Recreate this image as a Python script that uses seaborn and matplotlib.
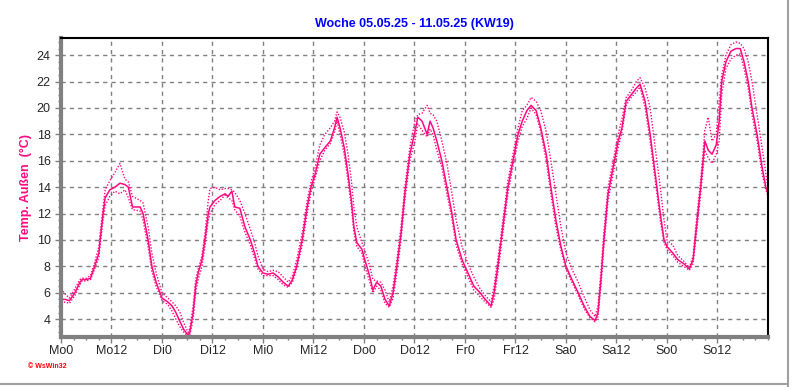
import matplotlib
matplotlib.use("Agg")
import matplotlib.pyplot as plt
from matplotlib.ticker import MultipleLocator
from matplotlib.lines import Line2D
import seaborn as sns
import pandas as pd

# ---------------- DATA ---------------- #
# hours since Monday 0:00
hours = [0, 1, 2, 3.3, 4.5, 5, 6, 7, 8, 9, 9.3, 10, 10.5, 11.6, 12.8, 14, 15.2, 16, 17, 18.8,
         19.5, 20.7, 21.6, 22.6, 24, 25.4, 26.4, 27.3, 28.3, 29.2, 30.2, 30.6, 31.4, 32, 32.6,
         33.5, 34.2, 35, 35.4, 36.6, 37.8, 39, 39.7, 40.6, 41.3, 42.5, 43.7, 45, 46, 46.8,
         48, 49.2, 50.4, 51.6, 52.8, 54, 55, 56, 57.3, 58.5, 59.4, 60.4, 61.5, 62.7, 64,
         65, 65.6, 66.3, 67.3, 68.2, 69, 69.6, 70.3, 71.5, 72.2, 73.4, 74.1, 75, 76, 77,
         78, 78.9, 79.8, 80.8, 81.7, 82.9, 84.1, 84.8, 85.8, 87, 87.7, 88.4, 89.3, 90.5,
         91.7, 92.9, 93.9, 95.3, 96.7, 98.1, 99.6, 100.8, 102.2, 102.9, 103.8, 105, 106.2,
         107.4, 108.6, 109.6, 110.7, 111.7, 112.9, 114, 115.3, 116.4, 117.6, 118.8, 120,
         121.4, 122.9, 124.3, 125.7, 126.9, 127.6, 128.3, 129, 130, 131.2, 132.4, 133.3,
         134.3, 135.5, 136.7, 137.6, 138.8, 140, 141.2, 142.4, 143.3, 144, 145.4, 146.6,
         148, 149.3, 150.2, 151, 152, 153, 153.8, 154.7, 155.7, 156.4, 157, 158, 159.2,
         160.4, 161.4, 162.3, 163.3, 164.2, 165.4, 166.6, 167.5, 168]

temp = [5.5, 5.5, 5.4, 6.0, 6.8, 7.0, 7.0, 7.1, 8.0, 9.0, 10.0, 12.0, 13.2, 13.8, 14.0, 14.3, 14.2,
        14.0, 12.5, 12.5, 12.0, 10.0, 8.0, 6.8, 5.6, 5.3, 5.0, 4.5, 3.8, 3.2, 2.8, 3.0, 4.5,
        6.5, 7.5, 8.5, 10.0, 12.0, 12.5, 13.0, 13.3, 13.5, 13.3, 13.7, 12.5, 12.4, 11.0, 10.0,
        9.0, 8.0, 7.5, 7.4, 7.5, 7.2, 6.8, 6.5, 7.0, 8.0, 10.0, 12.5, 14.0, 15.0, 16.5, 17.0,
        17.5, 18.5, 19.3, 18.5, 17.0, 15.0, 13.0, 11.0, 9.8, 9.3, 8.5, 7.2, 6.2, 6.8, 6.5,
        5.5, 5.0, 6.0, 8.0, 10.5, 13.5, 16.5, 18.2, 19.3, 19.0, 18.0, 19.0, 18.5, 17.5, 16.0,
        14.0, 12.0, 10.0, 8.5, 7.5, 6.5, 6.0, 5.5, 5.0, 6.0, 8.0, 11.0, 14.0, 16.0, 18.0,
        19.0, 19.8, 20.2, 19.8, 18.5, 16.5, 14.0, 11.5, 9.5, 8.0, 7.0, 6.0, 5.0, 4.2, 3.9,
        4.5, 7.0, 10.0, 13.5, 15.5, 17.5, 18.5, 20.5, 21.0, 21.5, 21.8, 20.5, 18.0, 15.0,
        12.0, 10.0, 9.5, 9.0, 8.5, 8.2, 7.8, 8.5, 11.0, 14.0, 17.5, 16.8, 16.5, 17.2, 19.0,
        22.0, 23.5, 24.3, 24.5, 24.5, 23.5, 22.0, 20.0, 18.0, 15.5, 14.0, 13.5]

temp_max = [6.3, 5.9, 5.6, 6.3, 7.0, 7.1, 7.1, 7.3, 8.3, 9.5, 10.5, 12.5, 13.8, 14.5, 15.1, 15.8,
            14.6, 14.4, 13.3, 13.0, 12.8, 11.0, 9.0, 7.5, 6.0, 5.6, 5.3, 5.0, 4.5, 3.7, 3.0, 3.3,
            5.0, 7.0, 7.8, 8.8, 10.5, 13.0, 13.9, 14.0, 13.8, 13.9, 13.9, 13.8, 13.6, 13.0, 12.0,
            10.8, 9.8, 8.8, 7.8, 7.6, 7.7, 7.6, 7.2, 6.8, 7.3, 8.5, 10.5, 13.0, 14.4, 15.5, 17.2,
            18.0, 18.5, 19.0, 19.7, 19.3, 18.2, 16.5, 14.5, 12.5, 11.0, 9.8, 9.2, 8.0, 7.0, 6.9,
            6.8, 6.2, 5.3, 6.5, 8.5, 11.0, 14.0, 17.0, 19.0, 19.5, 19.6, 20.2, 19.6, 19.5, 19.0,
            17.5, 15.8, 13.5, 11.5, 9.5, 8.2, 7.2, 6.3, 5.8, 5.3, 6.5, 8.5, 11.5, 14.5, 16.5,
            18.5, 19.8, 20.2, 20.8, 20.5, 19.8, 18.2, 16.0, 13.5, 11.0, 9.0, 7.8, 6.8, 5.7, 4.7,
            4.2, 5.0, 7.6, 10.6, 14.0, 16.0, 18.0, 19.2, 20.8, 21.3, 22.0, 22.3, 21.5, 20.0,
            17.0, 14.0, 11.5, 10.0, 9.6, 8.8, 8.4, 7.9, 8.8, 11.5, 14.5, 18.3, 19.3, 17.5, 18.0,
            20.5, 22.5, 24.0, 24.8, 25.0, 24.9, 24.5, 23.5, 22.0, 19.5, 17.0, 15.0, 14.0]

temp_min = [5.2, 5.3, 5.2, 5.8, 6.6, 6.9, 6.9, 7.0, 7.8, 8.7, 9.6, 11.5, 12.6, 13.3, 13.7, 13.5,
            13.8, 13.2, 12.3, 12.2, 11.5, 9.5, 7.6, 6.5, 5.4, 5.1, 4.6, 4.0, 3.4, 3.0, 2.7, 2.8,
            4.0, 6.0, 7.0, 8.0, 9.5, 11.5, 12.0, 12.7, 13.0, 13.4, 13.2, 13.0, 12.3, 11.8, 10.6,
            9.6, 8.6, 7.8, 7.3, 7.3, 7.3, 7.0, 6.6, 6.4, 6.8, 7.8, 9.6, 12.0, 13.6, 14.7, 16.0,
            16.8, 17.3, 18.2, 19.0, 18.0, 16.5, 14.5, 12.5, 10.6, 9.5, 9.0, 8.0, 6.8, 6.0, 6.5,
            6.2, 5.2, 4.9, 5.6, 7.5, 10.0, 13.0, 16.0, 17.5, 18.8, 18.3, 17.8, 18.4, 18.0, 16.8,
            15.5, 13.5, 11.6, 9.6, 8.2, 7.2, 6.2, 5.7, 5.3, 4.9, 5.5, 7.5, 10.5, 13.5, 15.6,
            17.5, 18.6, 19.2, 20.0, 19.5, 18.2, 16.0, 13.5, 11.0, 9.2, 7.8, 6.8, 5.8, 4.8, 4.1,
            3.8, 4.2, 6.5, 9.5, 13.0, 15.0, 17.0, 18.2, 20.2, 20.8, 21.2, 21.6, 20.0, 17.5, 14.5,
            11.5, 9.8, 9.3, 8.8, 8.3, 8.0, 7.7, 8.2, 10.5, 13.5, 16.8, 16.2, 15.8, 16.5, 17.5,
            21.0, 23.0, 23.7, 24.0, 24.1, 23.0, 21.5, 19.5, 17.5, 15.0, 13.8, 13.3]

tick_hours = list(range(0, 168, 12))
tick_labels = ["Mo0", "Mo12", "Di0", "Di12", "Mi0", "Mi12", "Do0", "Do12",
               "Fr0", "Fr12", "Sa0", "Sa12", "So0", "So12"]

df = pd.DataFrame({"h": hours, "temp": temp, "tmax": temp_max, "tmin": temp_min})

# ---------------- PLOT ---------------- #
sns.set_style("white")
plt.rcParams["font.family"] = ["Liberation Sans", "DejaVu Sans"]

LINE = "#FF0A82"

fig = plt.figure(figsize=(7.92, 3.87), dpi=100)
ax = fig.add_axes([61 / 792, 50 / 387, 707 / 792, 299 / 387])

sns.lineplot(data=df, x="h", y="tmax", ax=ax, color=LINE, lw=1.0, linestyle=(0, (1, 1.2)))
sns.lineplot(data=df, x="h", y="tmin", ax=ax, color=LINE, lw=1.0, linestyle=(0, (1, 1.2)))
sns.lineplot(data=df, x="h", y="temp", ax=ax, color=LINE, lw=1.1)

ax.set_xlim(0, 168)
ax.set_ylim(2.65, 25.3)
ax.set_xticks(tick_hours)
ax.set_xticklabels(tick_labels)
ax.xaxis.set_minor_locator(MultipleLocator(3))
ax.set_yticks(range(4, 25, 2))
ax.yaxis.set_minor_locator(MultipleLocator(0.5))

ax.grid(True, which="major", color="#808080", linestyle=(0, (3, 3)), lw=1)
ax.tick_params(axis="both", which="major", length=4, width=1, color="#808080",
               labelsize=9, direction="out", bottom=True, left=True)
ax.tick_params(axis="both", which="minor", length=2.5, width=1, color="#808080",
               direction="out", bottom=True, left=True)
ax.tick_params(axis="x", pad=2)

for side in ["left", "bottom"]:
    ax.spines[side].set_color("#808080")
    ax.spines[side].set_linewidth(3)
for side in ["top", "right"]:
    ax.spines[side].set_color("black")
    ax.spines[side].set_linewidth(1.5)

ax.set_xlabel("")
ax.set_ylabel("Temp. Außen  (°C)", color=LINE, fontsize=9, fontweight="bold", labelpad=3)
ax.set_title("Woche 05.05.25 - 11.05.25 (KW19)", color="#0000FF", fontsize=9,
             fontweight="bold", pad=8)

fig.text(28 / 792, 1 - 367 / 387, "© WsWin32", color="red", fontsize=5,
         fontweight="bold", va="center")

# window frame lines at right and bottom
fig.add_artist(Line2D([788 / 792, 788 / 792], [0, 1], color="#A0A0A0", lw=1.5))
fig.add_artist(Line2D([0, 788 / 792], [3 / 387, 3 / 387], color="#A0A0A0", lw=1.5))

fig.savefig("out.png", dpi=100)
